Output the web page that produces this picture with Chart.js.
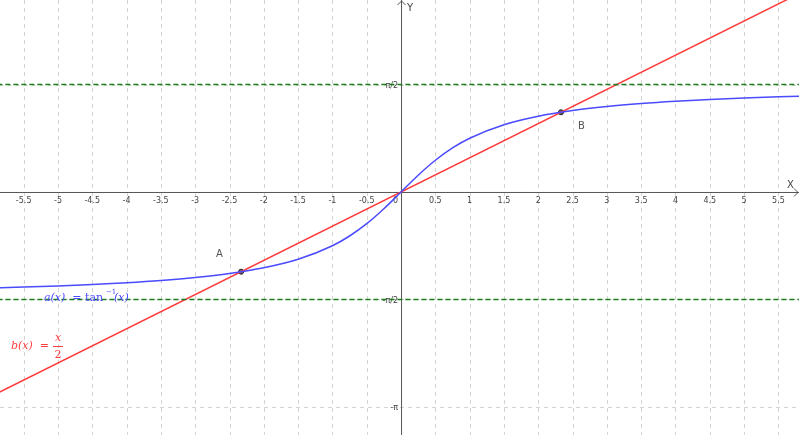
<!DOCTYPE html>
<html><head><meta charset="utf-8">
<script src="https://cdn.jsdelivr.net/npm/chart.js@4"></script>
<style>html,body{margin:0;padding:0;background:#fff}#wrap{width:799px;height:435px}</style>
</head><body><div id="wrap"><canvas id="c"></canvas></div>
<script>
// tan^-1 sample values and the line x/2
const atanX = [-6, -5.5, -5, -4.5, -4, -3.5, -3, -2.5, -2, -1.5, -1, -0.75, -0.5, -0.25, 0, 0.25, 0.5, 0.75, 1, 1.5, 2, 2.5, 3, 3.5, 4, 4.5, 5, 5.5, 6];
const atanY = [-1.4056, -1.3909, -1.3734, -1.3521, -1.3258, -1.2925, -1.2490, -1.1903, -1.1071, -0.9828, -0.7854, -0.6435, -0.4636, -0.2450, 0, 0.2450, 0.4636, 0.6435, 0.7854, 0.9828, 1.1071, 1.1903, 1.2490, 1.2925, 1.3258, 1.3521, 1.3734, 1.3909, 1.4056];
const lineX = [-6, 6];
const lineY = [-3, 3];
const asymX = [-6, 6];
const asymTop = [1.5708, 1.5708];
const asymBot = [-1.5708, -1.5708];
const pointNames = ['A', 'B'];
const pointX = [-2.3311, 2.3311];
const pointY = [-1.1656, 1.1656];
const xTickVals = [-5.5, -5, -4.5, -4, -3.5, -3, -2.5, -2, -1.5, -1, -0.5, 0.5, 1, 1.5, 2, 2.5, 3, 3.5, 4, 4.5, 5, 5.5];
const yTickVals = [-Math.PI, -Math.PI / 2, Math.PI / 2];
const yTickLabels = ['-π', '-π/2', 'π/2'];

const zip = (xs, ys) => xs.map((x, i) => ({ x, y: ys[i] }));

const axesPlugin = {
  id: 'gg-axes',
  beforeDatasetsDraw(chart) {
    const { ctx, scales: { x, y }, chartArea: a } = chart;
    const ox = x.getPixelForValue(0), oy = y.getPixelForValue(0);
    ctx.save();
    // dashed grid
    ctx.strokeStyle = '#d4d4d4'; ctx.lineWidth = 1; ctx.setLineDash([4, 4]);
    ctx.beginPath();
    for (const v of xTickVals) { const px = Math.round(x.getPixelForValue(v)) + 0.5; ctx.moveTo(px, a.top); ctx.lineTo(px, a.bottom); }
    for (const v of yTickVals) { const py = Math.round(y.getPixelForValue(v)) + 0.5; ctx.moveTo(a.left, py); ctx.lineTo(a.right, py); }
    ctx.stroke();
    ctx.setLineDash([]);
    ctx.strokeStyle = '#555';
    ctx.beginPath();
    ctx.moveTo(a.left, oy + 0.5); ctx.lineTo(a.right, oy + 0.5);
    ctx.moveTo(ox + 0.5, a.top); ctx.lineTo(ox + 0.5, a.bottom);
    ctx.moveTo(a.right - 5, oy - 3.5); ctx.lineTo(a.right - 1, oy + 0.5); ctx.lineTo(a.right - 5, oy + 4.5);
    ctx.moveTo(ox - 3.5, a.top + 5); ctx.lineTo(ox + 0.5, a.top + 1); ctx.lineTo(ox + 4.5, a.top + 5);
    ctx.stroke();
    ctx.fillStyle = '#444';
    ctx.font = '8px "DejaVu Sans", sans-serif';
    ctx.textAlign = 'center'; ctx.textBaseline = 'top';
    for (const v of xTickVals) ctx.fillText(String(v), x.getPixelForValue(v), oy + 5);
    ctx.textAlign = 'right';
    ctx.fillText('0', ox - 3, oy + 5);
    ctx.textBaseline = 'middle';
    yTickVals.forEach((v, i) => ctx.fillText(yTickLabels[i], ox - 3, y.getPixelForValue(v) + 1));
    ctx.font = '10px "DejaVu Sans", sans-serif';
    ctx.textAlign = 'left';
    ctx.fillText('X', a.right - 12, oy - 7);
    ctx.fillText('Y', ox + 6, a.top + 8);
    ctx.restore();
  },
  afterDatasetsDraw(chart) {
    const { ctx, scales: { x, y } } = chart;
    ctx.save();
    ctx.fillStyle = '#555';
    ctx.font = '10px "DejaVu Sans", sans-serif';
    ctx.textAlign = 'left'; ctx.textBaseline = 'middle';
    ctx.fillText(pointNames[0], x.getPixelForValue(pointX[0]) - 25, y.getPixelForValue(pointY[0]) - 17);
    ctx.fillText(pointNames[1], x.getPixelForValue(pointX[1]) + 17, y.getPixelForValue(pointY[1]) + 14);
    ctx.font = 'italic 11px "DejaVu Serif", serif';
    ctx.fillStyle = '#4a4aff';
    ctx.fillText('a(x)  =', 44, 298);
    ctx.font = '11px "DejaVu Serif", serif';
    ctx.fillText('tan', 85, 298);
    ctx.font = '7px "DejaVu Serif", serif';
    ctx.fillText('−1', 106, 292);
    ctx.font = 'italic 11px "DejaVu Serif", serif';
    ctx.fillText('(x)', 114, 298);
    ctx.fillStyle = '#ff4040';
    ctx.fillText('b(x)  =', 11, 346);
    ctx.textAlign = 'center';
    ctx.fillText('x', 58, 338);
    ctx.font = '11px "DejaVu Serif", serif';
    ctx.fillText('2', 58, 355);
    ctx.fillRect(53, 346, 10, 1);
    ctx.restore();
  },
};

new Chart(document.getElementById('c'), {
  type: 'scatter',
  data: {
    datasets: [
      { data: zip(asymX, asymTop), showLine: true, borderColor: '#1f7a1f', borderWidth: 1.6, borderDash: [5, 3], pointRadius: 0 },
      { data: zip(asymX, asymBot), showLine: true, borderColor: '#1f7a1f', borderWidth: 1.6, borderDash: [5, 3], pointRadius: 0 },
      { data: zip(atanX, atanY), showLine: true, borderColor: '#4a4aff', borderWidth: 1.5, pointRadius: 0, cubicInterpolationMode: 'monotone' },
      { data: zip(lineX, lineY), showLine: true, borderColor: '#ff3b3b', borderWidth: 1.5, pointRadius: 0 },
      { data: zip(pointX, pointY), showLine: false, pointRadius: 2.5, borderWidth: 1, borderColor: '#222', backgroundColor: '#666' },
    ],
  },
  options: {
    responsive: true, maintainAspectRatio: false, animation: false,
    layout: { padding: 0, autoPadding: false },
    scales: {
      x: { type: 'linear', display: false, min: -5.845, max: 5.80 },
      y: { type: 'linear', display: false, min: -3.553, max: 2.807 },
    },
    plugins: { legend: { display: false }, tooltip: { enabled: false } },
  },
  plugins: [axesPlugin],
});
</script></body></html>
